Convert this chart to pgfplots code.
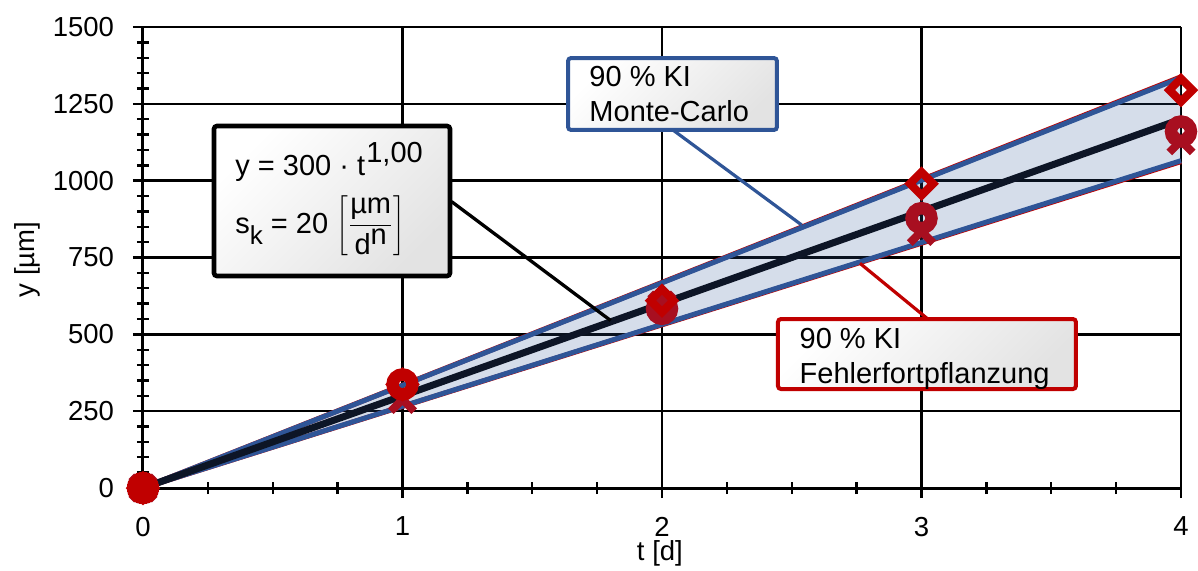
\documentclass[border=0pt]{standalone}
\usepackage{pgfplots}
\pgfplotsset{compat=1.18}
\usepackage{fontspec}
\setmainfont{Liberation Sans}
\definecolor{navy}{HTML}{0D1526}
\definecolor{kiblue}{HTML}{2F5597}
\definecolor{kired}{HTML}{C00000}
\definecolor{kidark}{HTML}{A80F20}
\newcommand{\tickfont}{\fontsize{13.75}{16}\selectfont}
\newcommand{\boxfont}{\fontsize{14.5}{17}\selectfont}
\begin{document}
\begin{tikzpicture}
\useasboundingbox (-71.5pt,-41pt) rectangle (527.5pt,244pt);
\begin{axis}[
  at={(0,0)}, anchor=south west,
  scale only axis, width=519pt, height=230.5pt,
  xmin=0, xmax=4, ymin=0, ymax=1500,
  axis lines*=left,
  axis line style={line width=1.5pt, black},
  xtick={0,1,2,3,4}, ytick={0,250,500,750,1000,1250,1500},
  minor x tick num=3, minor y tick num=4,
  grid=major, major grid style={line width=1.2pt, black},
  tick align=center, major tick length=10pt, minor tick length=6pt,
  every tick/.style={line width=1.2pt, black},
  tick label style={font=\tickfont},
  /pgf/number format/assume math mode=true,
  /pgf/number format/1000 sep={},
  yticklabel style={xshift=-6pt},
  xticklabel style={yshift=-5.9pt},
  xlabel={t [d]}, ylabel={y [µm]},
  every axis x label/.style={at={(rel axis cs:0.498,0)}, yshift=-32.5pt, anchor=center, font=\tickfont},
  every axis y label/.style={at={(rel axis cs:0,0.496)}, xshift=-58pt, rotate=90, anchor=center, font=\tickfont},
  clip=false,
]
% band fill
\addplot[draw=none, fill=kiblue, fill opacity=0.2] coordinates {(0,0) (1,333.75) (2,667.5) (3,1001.25) (4,1335) (4,1065) (3,798.75) (2,532.5) (1,266.25) (0,0)};
% Fehlerfortpflanzung edges (red, slightly wider)
\addplot[kired, line width=2.5pt, no marks] coordinates {(0,0) (1,334.5) (2,669) (3,1003.5) (4,1338)};
\addplot[kired, line width=2.5pt, no marks] coordinates {(0,0) (1,265.5) (2,531) (3,796.5) (4,1062)};
% Monte-Carlo edges (blue)
\addplot[kiblue, line width=2.5pt, no marks] coordinates {(0,0) (1,333.75) (2,667.5) (3,1001.25) (4,1335)};
\addplot[kiblue, line width=2.5pt, no marks] coordinates {(0,0) (1,266.25) (2,532.5) (3,798.75) (4,1065)};
% model line
\addplot[navy, line width=3.5pt, no marks] coordinates {(0,0) (1,300) (2,600) (3,900) (4,1200)};
% markers
\addplot[only marks, mark=x, mark size=8.3pt, kidark, mark options={line width=4pt}] coordinates {(0,0) (1,288) (2,595) (3,835) (4,1130)};
\addplot[only marks, mark=o, mark size=5pt, kidark, mark options={line width=6.2pt, fill=none}] coordinates {(0,0) (2,583) (3,878) (4,1160)};
\addplot[only marks, mark=o, mark size=5pt, kired, mark options={line width=6.2pt, fill=none}] coordinates {(1,337)};
\addplot[only marks, mark=square, mark size=4.1pt, kired, mark options={line width=4pt, fill=none, rotate=45}] coordinates {(0,0) (1,337) (2,610) (3,990) (4,1295)};
\addplot[only marks, mark=*, mark size=7.75pt, kired, mark options={line width=0pt, fill=kired}] coordinates {(0,0)};
% connectors
\draw[black, line width=1.65pt] (axis cs:1.189,932) -- (axis cs:1.802,545);
\draw[kiblue, line width=1.6pt] (axis cs:2.042,1165) -- (axis cs:2.538,856);
\draw[kired, line width=1.6pt] (axis cs:2.763,731) -- (axis cs:3.020,553);
% boxes
\draw[black, line width=2.3pt, rounded corners=1.5pt, top color=white, bottom color=black!11, shading angle=45] (axis cs:0.2736,1177.9) rectangle (axis cs:1.183,689.8);
\draw[kiblue, line width=2pt, rounded corners=1.5pt, top color=white, bottom color=black!11, shading angle=45] (axis cs:1.638,1399) rectangle (axis cs:2.443,1165);
\draw[kired, line width=2pt, rounded corners=1.5pt, top color=white, bottom color=black!11, shading angle=45] (axis cs:2.447,549.9) rectangle (axis cs:3.595,322.1);
% box texts
\node[anchor=base west, inner sep=0pt, font=\boxfont] at (axis cs:0.3545,1018) {y = 300 · t\hspace{0.6pt}\raisebox{6.5pt}{1,00}};
\node[anchor=base west, inner sep=0pt, font=\boxfont] at (axis cs:0.3545,829.7) {s\raisebox{-5.5pt}{\fontsize{13}{15}\selectfont k} = 20\hspace{4pt}$\displaystyle\left[\frac{\mbox{µm}}{\mbox{d\raisebox{5pt}{n}}}\right]$};
\node[anchor=base west, inner sep=0pt, font=\boxfont] at (axis cs:1.719,1306) {90 \% KI};
\node[anchor=base west, inner sep=0pt, font=\boxfont] at (axis cs:1.719,1192) {Monte-Carlo};
\node[anchor=base west, inner sep=0pt, font=\boxfont] at (axis cs:2.529,454.6) {90 \% KI};
\node[anchor=base west, inner sep=0pt, font=\boxfont] at (axis cs:2.529,340.7) {Fehlerfortpflanzung};
\end{axis}
\end{tikzpicture}
\end{document}
